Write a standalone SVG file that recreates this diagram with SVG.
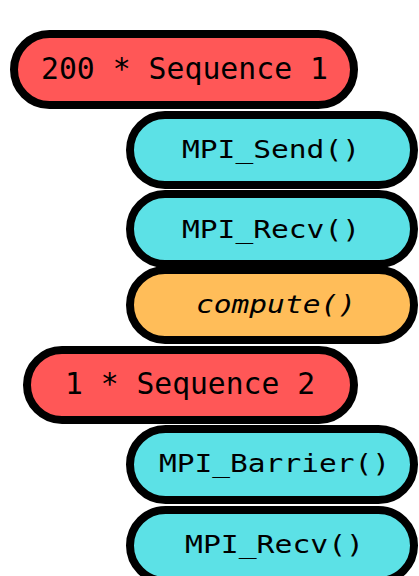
<svg xmlns="http://www.w3.org/2000/svg" width="419" height="576" viewBox="0 0 419 576">
<style>
.pill{stroke:#000;stroke-width:8}
.red{fill:#ff5757}
.cyan{fill:#5ce1e6}
.orange{fill:#ffbd59}
.t{font-family:"DejaVu Sans Mono","Liberation Mono",monospace;fill:#000;text-anchor:middle}
.big{font-size:29.5px}
.small{font-size:25px}
</style>
<rect width="419" height="576" fill="#fff"/>
<g id="connectors"/>
<g id="seq1">
<rect class="pill red" x="14" y="34" width="340" height="71" rx="35.5"/>
<text class="t big" x="184.5" y="78.5" textLength="287" lengthAdjust="spacingAndGlyphs">200 * Sequence 1</text>
</g>
<g id="send1">
<rect class="pill cyan" x="130" y="115" width="284" height="70" rx="35"/>
<text class="t small" x="271" y="157.5" textLength="178" lengthAdjust="spacingAndGlyphs">MPI_Send()</text>
</g>
<g id="recv1">
<rect class="pill cyan" x="130" y="194" width="284" height="70" rx="35"/>
<text class="t small" x="271" y="238" textLength="178" lengthAdjust="spacingAndGlyphs">MPI_Recv()</text>
</g>
<g id="compute">
<rect class="pill orange" x="130" y="270" width="284" height="70" rx="35"/>
<text class="t small" font-style="italic" x="276" y="312.5" textLength="160" lengthAdjust="spacingAndGlyphs">compute()</text>
</g>
<g id="seq2">
<rect class="pill red" x="27" y="350" width="327" height="70" rx="35"/>
<text class="t big" x="190" y="393.5" textLength="250" lengthAdjust="spacingAndGlyphs">1 * Sequence 2</text>
</g>
<g id="barrier">
<rect class="pill cyan" x="130" y="429" width="284" height="71" rx="35.5"/>
<text class="t small" x="274.5" y="472" textLength="231" lengthAdjust="spacingAndGlyphs">MPI_Barrier()</text>
</g>
<g id="recv2">
<rect class="pill cyan" x="130" y="510" width="284" height="71" rx="35.5"/>
<text class="t small" x="274.5" y="552.5" textLength="179" lengthAdjust="spacingAndGlyphs">MPI_Recv()</text>
</g>
</svg>
